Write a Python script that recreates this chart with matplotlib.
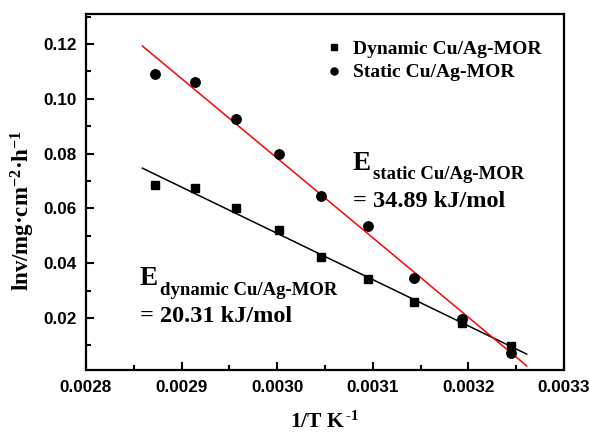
import matplotlib
matplotlib.use("Agg")
import matplotlib.pyplot as plt
from matplotlib.ticker import MultipleLocator, FormatStrFormatter

# -----------------------------
# Dados
# -----------------------------
inv_T = [0.002872, 0.002914, 0.002957, 0.003002, 0.003046,
         0.003095, 0.003143, 0.003193, 0.003245]
dynamic = [0.0686, 0.0676, 0.0601, 0.0523, 0.0422,
           0.0344, 0.0258, 0.0181, 0.0099]
static = [0.1091, 0.1063, 0.0928, 0.0797, 0.0644,
          0.0534, 0.0345, 0.0198, 0.0071]

# extremos das retas de ajuste
fit_x = [0.002859, 0.003261]
fit_dynamic = [0.0747, 0.0068]
fit_static = [0.1193, 0.0025]

# -----------------------------
# Estilo
# -----------------------------
plt.rcParams["mathtext.fontset"] = "custom"
plt.rcParams["mathtext.rm"] = "Liberation Serif:bold"
plt.rcParams["mathtext.it"] = "Liberation Serif:bold"
plt.rcParams["mathtext.bf"] = "Liberation Serif:bold"

serif = dict(family="Liberation Serif", weight="bold")

fig = plt.figure(figsize=(5.89, 4.33), dpi=100)
ax = fig.add_axes([0.146, 0.1455, 0.8116, 0.8222])

ax.plot(fit_x, fit_dynamic, color="black", lw=1.1, zorder=2)
ax.plot(fit_x, fit_static, color="red", lw=1.1, zorder=2)
ax.plot(inv_T, dynamic, "s", color="black", ms=6.2, ls="none",
        label="Dynamic Cu/Ag-MOR", zorder=3)
ax.plot(inv_T, static, "o", color="black", ms=6.8, ls="none",
        label="Static Cu/Ag-MOR", zorder=3)

ax.set_xlim(0.0028, 0.0033)
ax.set_ylim(0.001, 0.131)
ax.xaxis.set_major_locator(MultipleLocator(0.0001))
ax.xaxis.set_minor_locator(MultipleLocator(0.00005))
ax.yaxis.set_major_locator(MultipleLocator(0.02))
ax.yaxis.set_minor_locator(MultipleLocator(0.01))
ax.xaxis.set_major_formatter(FormatStrFormatter("%.4f"))
ax.yaxis.set_major_formatter(FormatStrFormatter("%.2f"))

ax.tick_params(which="both", direction="in", top=False, right=False, width=1.5)
ax.tick_params(which="major", length=6, pad=7)
ax.tick_params(which="minor", length=3.5)
for lab in ax.get_xticklabels() + ax.get_yticklabels():
    lab.set_family("Liberation Sans")
    lab.set_weight("bold")
    lab.set_fontsize(12.3)
for sp in ax.spines.values():
    sp.set_linewidth(1.6)

ax.set_xlabel(r"1/T K$^{\,\text{-}1}$", fontsize=15.5, **serif)
ax.xaxis.set_label_coords(0.5, -0.116)
ax.set_ylabel(r"lnv/mg·cm$^{-2}$·h$^{-1}$", fontsize=16.5, **serif)
ax.yaxis.set_label_coords(-0.1025, 0.447)

leg = ax.legend(loc="upper right", bbox_to_anchor=(0.99, 0.975), frameon=False,
                handlelength=0.8, handletextpad=0.6, labelspacing=0.3,
                markerscale=0.75, prop=dict(family="Liberation Serif",
                                            weight="bold", size=14))


def energia(x, y, sub, valor):
    e = ax.text(x, y, "E", fontsize=19.5, va="baseline", **serif)
    ax.annotate(sub, xy=(1, 0), xycoords=e, xytext=(1.5, -2.5),
                textcoords="offset points", va="baseline",
                fontsize=13.5, **serif)
    ax.text(x, y - 0.0135, valor, fontsize=17.5, va="baseline", **serif)


energia(0.003079, 0.0741, "static Cu/Ag-MOR", "= 34.89 kJ/mol")
energia(0.002856, 0.0319, "dynamic Cu/Ag-MOR", "= 20.31 kJ/mol")

fig.savefig("out.png", dpi=100)
